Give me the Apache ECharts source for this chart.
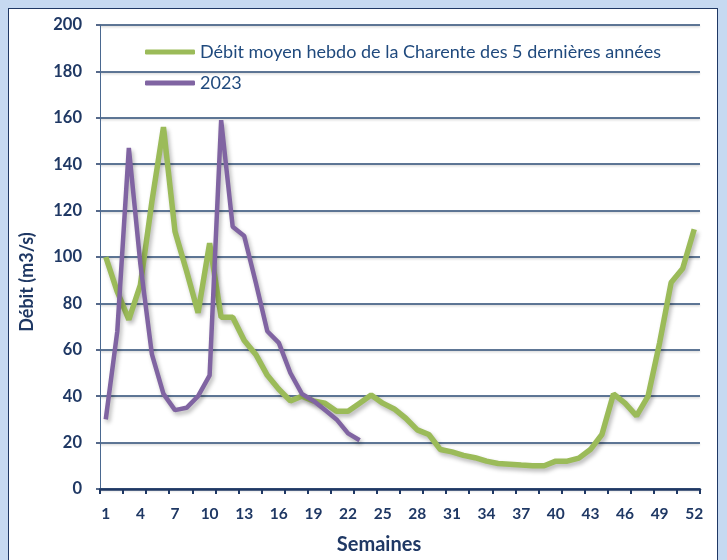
<!DOCTYPE html>
<html>
<head>
<meta charset="utf-8">
<script src="https://cdn.jsdelivr.net/npm/echarts@6/dist/echarts.min.js"></script>
<style>
  html, body { margin: 0; padding: 0; }
  body { width: 727px; height: 560px; background: #c6d9f1; position: relative; overflow: hidden; }
  #frame { position: absolute; left: 8px; top: 8px; width: 710px; height: 600px; background: #ffffff; border: 1.5px solid #1f3864; box-sizing: border-box; }
  #chart { position: absolute; left: 0; top: 0; width: 727px; height: 560px; }
</style>
</head>
<body>
<div id="frame"></div>
<div id="chart"></div>
<script>
// Weekly flow of the Charente river (m3/s)
const weeks = [1, 2, 3, 4, 5, 6, 7, 8, 9, 10, 11, 12, 13, 14, 15, 16, 17, 18, 19, 20,
  21, 22, 23, 24, 25, 26, 27, 28, 29, 30, 31, 32, 33, 34, 35, 36, 37, 38, 39, 40,
  41, 42, 43, 44, 45, 46, 47, 48, 49, 50, 51, 52];

const avgLabel = 'Débit moyen hebdo de la Charente des 5 dernières années';
const avgFlow = [100, 85, 73, 88, 124, 156, 111, 94, 76, 106,
  74, 74, 64, 58, 49, 43, 38, 40, 38, 37,
  33.5, 33.5, 37, 40.5, 37, 34.5, 30.5, 25.5, 23.5, 17,
  16, 14.5, 13.5, 12, 11, 10.7, 10.3, 10, 10, 12,
  12, 13.3, 17, 23.5, 41, 37, 31.5, 40, 63, 89,
  95, 112];

const yearLabel = '2023';
const yearFlow = [30, 68, 147, 97, 58, 41, 34, 35, 40, 49,
  159, 113, 109, 89, 68, 63, 50, 41, 38, 34,
  30, 24, 21];

const yMin = 0, yMax = 200, yStep = 20;

const navy = '#1f3864';
const font = 'Lato';

const chart = echarts.init(document.getElementById('chart'), null, { renderer: 'canvas' });

const shadow = {
  shadowColor: 'rgba(0,0,0,0.28)',
  shadowBlur: 4,
  shadowOffsetX: 2,
  shadowOffsetY: 3
};

chart.setOption({
  backgroundColor: 'transparent',
  animation: false,
  grid: { left: 100, right: 27, top: 25, bottom: 69 },
  legend: {
    orient: 'vertical',
    left: 145,
    top: 41,
    padding: 0,
    itemGap: 9,
    itemWidth: 50,
    itemHeight: 5,
    icon: 'roundRect',
    textStyle: { fontFamily: font, fontSize: 18, color: '#1f497d', lineHeight: 22 },
    data: [avgLabel, yearLabel]
  },
  xAxis: {
    type: 'category',
    data: weeks,
    boundaryGap: true,
    name: 'Semaines',
    nameLocation: 'middle',
    nameGap: 46,
    nameTextStyle: { fontFamily: font, fontSize: 20, fontWeight: 'bold', color: navy, padding: [0, 42, 0, 0] },
    axisLine: { show: true, lineStyle: { color: navy, width: 2.5 } },
    axisTick: { show: true, interval: 1, length: 5, lineStyle: { color: navy, width: 2 } },
    axisLabel: { interval: 2, margin: 17, fontFamily: font, fontSize: 15.5, fontWeight: 'bold', color: navy },
    splitLine: { show: false }
  },
  yAxis: {
    type: 'value',
    min: yMin,
    max: yMax,
    interval: yStep,
    name: 'Débit (m3/s)',
    nameLocation: 'middle',
    nameRotate: 90,
    nameGap: 64,
    nameTextStyle: { fontFamily: font, fontSize: 18, fontWeight: 'bold', color: navy, padding: [0, 50, 0, 0] },
    axisLine: { show: true, lineStyle: { color: '#4a6890', width: 1 } },
    axisTick: { show: true, length: 4, lineStyle: { color: navy, width: 1.5 } },
    axisLabel: { margin: 18, fontFamily: font, fontSize: 16.5, fontWeight: 'bold', color: navy },
    splitLine: {
      show: true,
      lineStyle: Object.assign({ color: '#2a4a73', width: 1.6 }, {
        shadowColor: 'rgba(0,0,0,0.18)', shadowBlur: 2, shadowOffsetY: 1.5
      })
    }
  },
  series: [
    {
      name: avgLabel,
      type: 'line',
      data: avgFlow,
      symbol: 'none',
      itemStyle: { color: '#9bbb59' },
      lineStyle: Object.assign({ color: '#9bbb59', width: 5.5 }, shadow),
      z: 3
    },
    {
      name: yearLabel,
      type: 'line',
      data: yearFlow,
      symbol: 'none',
      itemStyle: { color: '#8064a2' },
      lineStyle: Object.assign({ color: '#8064a2', width: 4.5 }, shadow),
      z: 4
    }
  ]
});
</script>
</body>
</html>
